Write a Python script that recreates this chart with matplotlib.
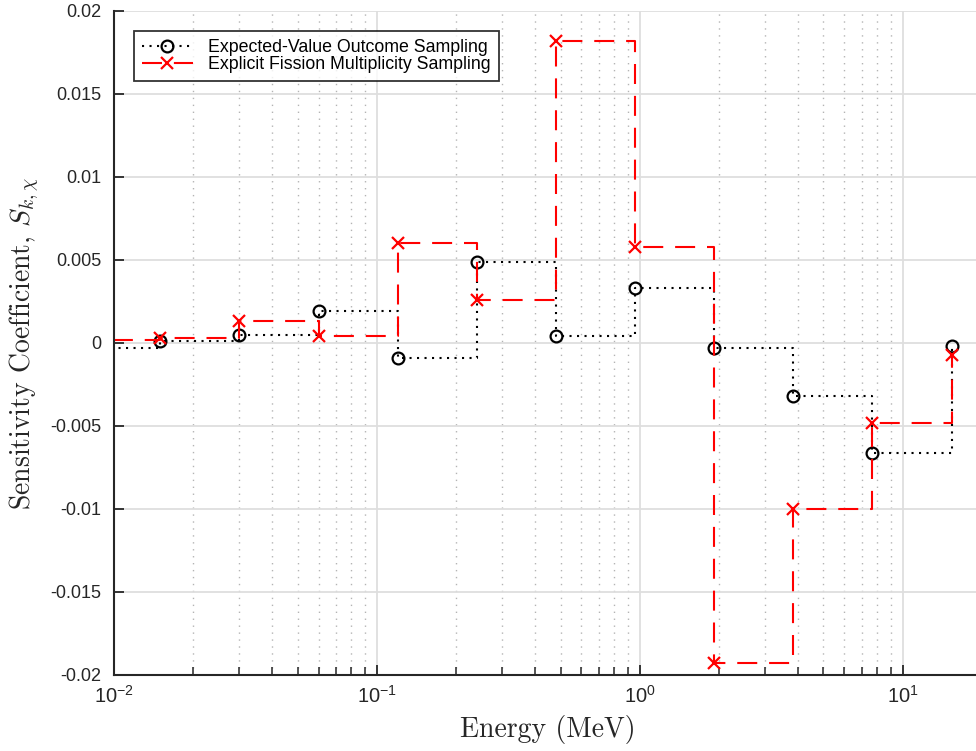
import math
import matplotlib
matplotlib.use('Agg')
import matplotlib.pyplot as plt
from matplotlib.ticker import FixedLocator, LogLocator, FuncFormatter, NullFormatter

plt.rcParams['font.family'] = ['Liberation Sans', 'DejaVu Sans']
plt.rcParams['mathtext.fontset'] = 'custom'
plt.rcParams['mathtext.rm'] = 'Liberation Sans'
plt.rcParams['mathtext.it'] = 'Liberation Sans:italic'

# energy group points (MeV), stairs drawn 'post'
energy = [0.0075, 0.015, 0.03, 0.06, 0.12, 0.24, 0.48, 0.96, 1.92, 3.84, 7.68, 15.36]
# expected-value outcome sampling
s_expected = [-0.0003, 0.0001, 0.0005, 0.0019, -0.0009, 0.0049,
              0.00045, 0.0033, -0.0003, -0.0032, -0.0066, -0.0002]
# explicit fission multiplicity sampling
s_explicit = [0.00015, 0.0003, 0.0013, 0.0004, 0.0060, 0.0026,
              0.0182, 0.0058, -0.0193, -0.0100, -0.0048, -0.0007]

yticks = [-0.02, -0.015, -0.01, -0.005, 0, 0.005, 0.01, 0.015, 0.02]
ytick_labels = ['-0.02', '-0.015', '-0.01', '-0.005', '0', '0.005', '0.01', '0.015', '0.02']

fig = plt.figure(figsize=(9.76, 7.51), dpi=100)
ax = fig.add_axes([0.1168, 0.1012, 0.889, 0.8842])

ax.step(energy, s_expected, where='post', color='black', lw=1.5,
        linestyle=(0, (1, 2.6)), marker='o', markersize=8.5,
        markerfacecolor='none', markeredgewidth=1.6,
        label='Expected-Value Outcome Sampling')
ax.step(energy, s_explicit, where='post', color='#ff0000', lw=1.5,
        linestyle=(0, (9.6, 5.7)), marker='x', markersize=8.5,
        markeredgewidth=1.6, label='Explicit Fission Multiplicity Sampling')

ax.set_xscale('log')
ax.set_xlim(0.01, 20)
ax.set_ylim(-0.02, 0.02)
ax.set_yticks(yticks, labels=ytick_labels)

ax.xaxis.set_major_locator(FixedLocator([0.01, 0.1, 1, 10]))
ax.xaxis.set_major_formatter(FuncFormatter(lambda v, p: r'$10^{%d}$' % round(math.log10(v))))
ax.xaxis.set_minor_locator(LogLocator(base=10, subs=range(2, 10)))
ax.xaxis.set_minor_formatter(NullFormatter())

ax.grid(True, which='major', color='#dedede', lw=1.3, linestyle='-')
ax.grid(True, which='minor', axis='x', color='#b4b4b4', lw=1.0, linestyle=(0, (1, 4)))
ax.set_axisbelow(True)

for s in ['top', 'right']:
    ax.spines[s].set_visible(False)
for s in ['left', 'bottom']:
    ax.spines[s].set_color('#262626')
    ax.spines[s].set_linewidth(1.5)

ax.tick_params(which='major', direction='in', length=7, width=1.3,
               color='#262626', labelsize=13, labelcolor='#262626')
ax.tick_params(axis='y', pad=9)
ax.tick_params(axis='x', pad=7, labelsize=14.5)
ax.tick_params(which='minor', direction='in', length=5.5, width=1.1, color='#262626')

ax.set_xlabel('Energy (MeV)', fontsize=20, fontfamily='cmr10',
              color='#262626', labelpad=6)
ax.set_ylabel(r'Sensitivity Coefficient, $S_{k,\chi}$', fontsize=20,
              fontfamily='cmr10', math_fontfamily='cm', color='#262626', labelpad=7)

leg = ax.legend(loc='upper left', bbox_to_anchor=(0.0225, 0.97), fontsize=12.8,
                frameon=True, fancybox=False, edgecolor='black',
                handlelength=2.9, borderpad=0.45, labelspacing=0.0,
                handletextpad=0.85, borderaxespad=0)
leg.get_frame().set_linewidth(1.3)

fig.savefig('out.png', dpi=100)
